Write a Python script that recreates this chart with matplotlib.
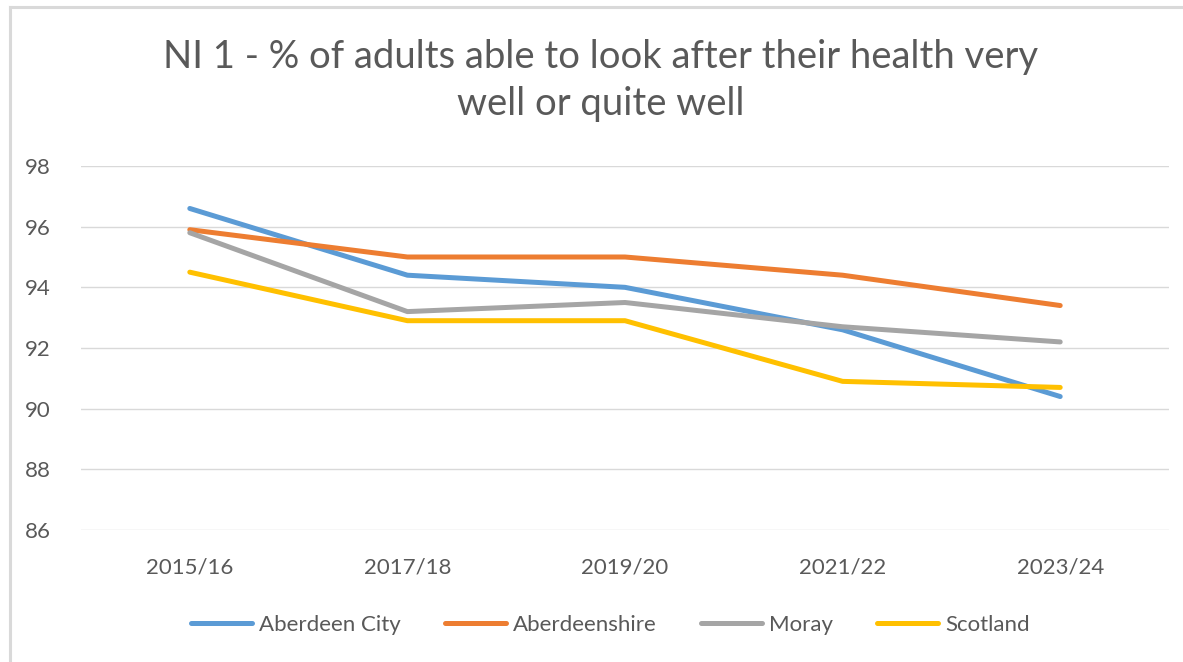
import numpy as np
import matplotlib.pyplot as plt
from matplotlib.lines import Line2D

# data
years = ['2015/16', '2017/18', '2019/20', '2021/22', '2023/24']
aberdeen_city = [96.6, 94.4, 94.0, 92.6, 90.4]
aberdeenshire = [95.9, 95.0, 95.0, 94.4, 93.4]
moray = [95.8, 93.2, 93.5, 92.7, 92.2]
scotland = [94.5, 92.9, 92.9, 90.9, 90.7]
series_names = ['Aberdeen City', 'Aberdeenshire', 'Moray', 'Scotland']
colors = ['#5B9BD5', '#ED7D31', '#A5A5A5', '#FFC000']
yticks = [86, 88, 90, 92, 94, 96, 98]

plt.rcParams['font.family'] = ['Lato', 'DejaVu Sans']
txt = '#595959'

W, H = 1183, 662
fig = plt.figure(figsize=(W / 100, H / 100), dpi=100)
ax = fig.add_axes([81 / W, 1 - 530 / H, (1169 - 81) / W, (530 - 166) / H])

x = np.arange(len(years))
for vals, c in zip([aberdeen_city, aberdeenshire, moray, scotland], colors):
    ax.plot(x, vals, color=c, lw=3.6, solid_capstyle='round', solid_joinstyle='round')

ax.set_xlim(-0.5, len(years) - 0.5)
ax.set_ylim(86, 98)
ax.set_yticks(yticks)
ax.set_xticks(x)
ax.set_xticklabels(years)
ax.grid(axis='y', color='#D9D9D9', lw=1)
ax.set_axisbelow(True)
for s in ax.spines.values():
    s.set_visible(False)
ax.tick_params(length=0, labelsize=16, colors=txt)
ax.tick_params(axis='y', pad=22)
ax.tick_params(axis='x', pad=20)

fig.text(0.508, 1 - 57 / H, 'NI 1 - % of adults able to look after their health very',
         ha='center', va='center', fontsize=27.5, color=txt)
fig.text(0.508, 1 - 104 / H, 'well or quite well',
         ha='center', va='center', fontsize=27.5, color=txt)

handles = [Line2D([], [], color=c, lw=3.6, solid_capstyle='round') for c in colors]
fig.legend(handles, series_names, loc='center', bbox_to_anchor=(0.516, 1 - 625 / H),
           ncol=4, frameon=False, fontsize=16, labelcolor=txt,
           handlelength=2.75, handletextpad=0.3, columnspacing=2.0)

# chart frame (top and left edges visible)
fig.add_artist(Line2D([10 / W, 1], [1 - 7 / H, 1 - 7 / H], color='#D9D9D9', lw=2.2,
                      transform=fig.transFigure))
fig.add_artist(Line2D([10 / W, 10 / W], [0, 1 - 7 / H], color='#D9D9D9', lw=2.2,
                      transform=fig.transFigure))

fig.savefig('out.png', dpi=100, facecolor='white')
